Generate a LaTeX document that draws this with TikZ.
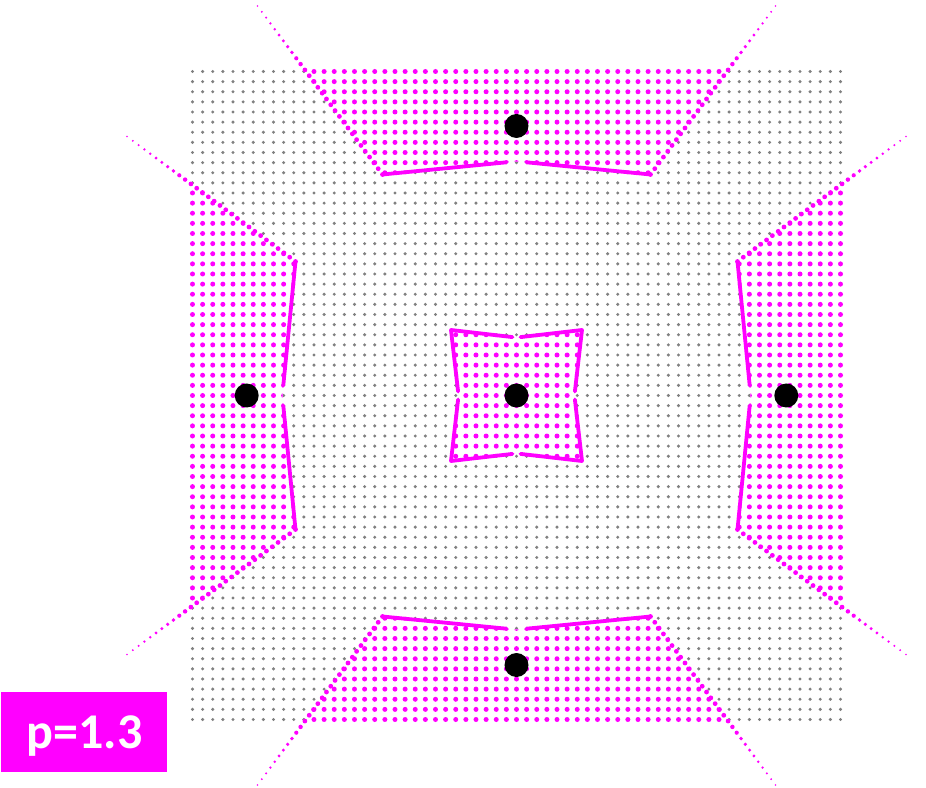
\documentclass[tikz,border=0pt]{standalone}
\usepackage{fontspec}
\newfontfamily\labelfont{Carlito}
\definecolor{mag}{RGB}{255,0,255}
\definecolor{gdot}{RGB}{128,128,128}
\newcommand\zoneline[4]{%
  \foreach \k in {0,...,29}{%
    \pgfmathsetmacro\tt{\k/29}%
    \pgfmathsetmacro\rr{\tt<0.61 ? 2.4 : 2.4-(\tt-0.61)/0.39*1.5}%
    \fill[mag] ({(#1)+((#3)-(#1))*\tt},{(#2)+((#4)-(#2))*\tt}) circle (\rr);
  }}
\def\zoneregions{(-134,221) -- (0,234) -- (134,221) -- (284,423) -- (-284,423) -- cycle
 (-134,-221) -- (0,-234) -- (134,-221) -- (284,-423) -- (-284,-423) -- cycle
 (-221,134) -- (-234,0) -- (-221,-134) -- (-423,-284) -- (-423,284) -- cycle
 (221,134) -- (234,0) -- (221,-134) -- (423,-284) -- (423,284) -- cycle
 (-65.5,65.5) -- (0,58) -- (65.5,65.5) -- (58,0) -- (65.5,-65.5) -- (0,-58) -- (-65.5,-65.5) -- (-58,0) -- cycle}
\begin{document}
\begin{tikzpicture}[x=1pt,y=1pt,
  site/.style={circle,fill=black,inner sep=0pt,minimum size=24pt},
  solidb/.style={draw=mag,line width=3.8pt,line cap=round,line join=round},
  labelbox/.style={fill=mag,inner sep=0pt,minimum width=165.7pt,minimum height=80pt},
  labeltext/.style={anchor=base,text=white,font=\labelfont\bfseries\fontsize{50}{50}\selectfont,inner sep=0pt}
]
\useasboundingbox (-516.5,-391.5) rectangle (409.5,395.5);
% gray grid
\foreach \j in {-32,...,32}{\fill[gdot] \foreach \i in {-32,...,32}{(\i*10.125,\j*10.125) circle (1.7)};}
% erase inside regions
\fill[white] \zoneregions;
% magenta dots inside regions
\begin{scope}
  \clip \zoneregions;
  \foreach \j in {-32,...,32}{\fill[mag] \foreach \i in {-32,...,32}{(\i*10.125,\j*10.125) circle (2.5)};}
\end{scope}
% solid inner boundaries
\draw[solidb] (-134,221) -- (-10,233.2);
\draw[solidb] (10,233.2) -- (134,221);
\draw[solidb] (-134,-221) -- (-10,-233.2);
\draw[solidb] (10,-233.2) -- (134,-221);
\draw[solidb] (-221,134) -- (-233.2,10);
\draw[solidb] (-221,-134) -- (-233.2,-10);
\draw[solidb] (221,134) -- (233.2,10);
\draw[solidb] (221,-134) -- (233.2,-10);
% center region
\draw[solidb] (-4,58.4) -- (-65.5,65.5) -- (-58.4,4);
\draw[solidb] (4,58.4) -- (65.5,65.5) -- (58.4,4);
\draw[solidb] (4,-58.4) -- (65.5,-65.5) -- (58.4,-4);
\draw[solidb] (-4,-58.4) -- (-65.5,-65.5) -- (-58.4,-4);
% dotted outer boundaries
\zoneline{-134}{221}{-259}{389.5}
\zoneline{134}{221}{259}{389.5}
\zoneline{-134}{-221}{-259}{-389.5}
\zoneline{134}{-221}{259}{-389.5}
\zoneline{-221}{134}{-389.5}{259}
\zoneline{-221}{-134}{-389.5}{-259}
\zoneline{221}{134}{389.5}{259}
\zoneline{221}{-134}{389.5}{-259}
% sites
\node[site] (s0) at (0,0) {};
\node[site] (s1) at (0,269.5) {};
\node[site] (s2) at (0,-269.5) {};
\node[site] (s3) at (-269.8,0) {};
\node[site] (s4) at (269.8,0) {};
% label
\node[labelbox] (lbl) at (-432.65,-336.2) {};
\node[labeltext] (lbltext) at (-432,-352.8) {p=1.3};
\end{tikzpicture}
\end{document}
